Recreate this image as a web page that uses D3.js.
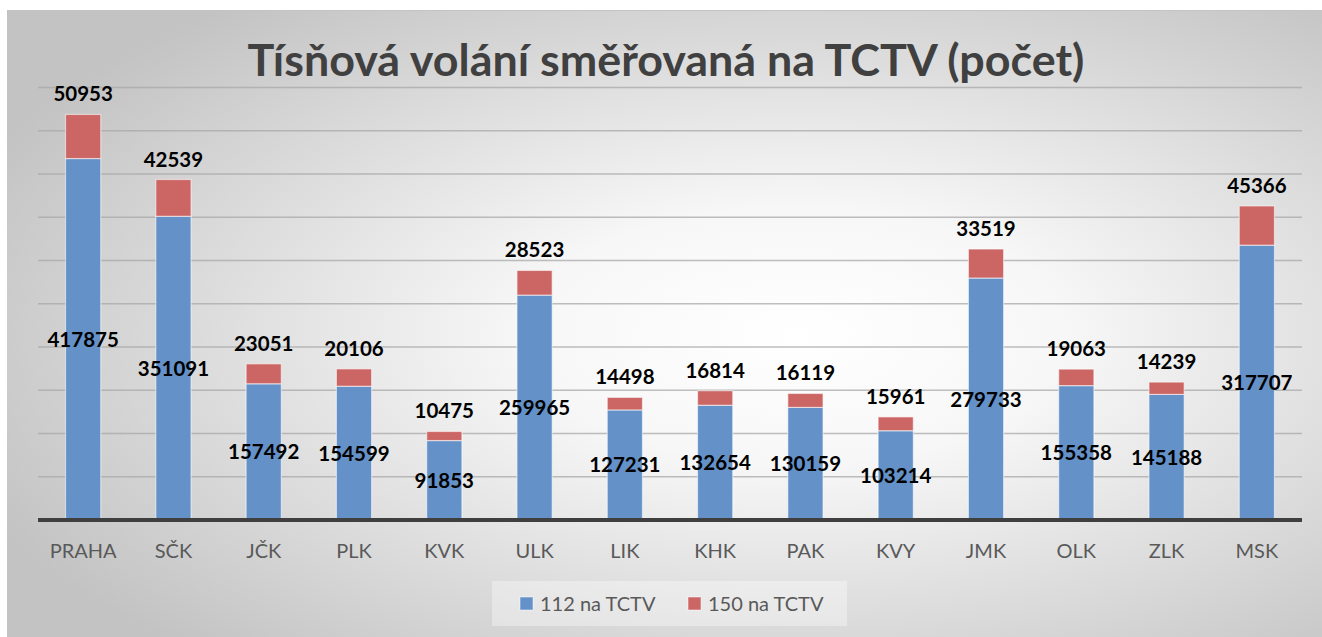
<!DOCTYPE html>
<html>
<head>
<meta charset="utf-8">
<script src="https://cdn.jsdelivr.net/npm/d3@7/dist/d3.min.js"></script>
<style>
  html, body { margin: 0; padding: 0; background: #ffffff; }
  svg { display: block; }
</style>
</head>
<body>
<svg id="chart" width="1322" height="637"></svg>
<script>
const categories = ["PRAHA", "SČK", "JČK", "PLK", "KVK", "ULK", "LIK", "KHK", "PAK", "KVY", "JMK", "OLK", "ZLK", "MSK"];
const series112 = [417875, 351091, 157492, 154599, 91853, 259965, 127231, 132654, 130159, 103214, 279733, 155358, 145188, 317707];
const series150 = [50953, 42539, 23051, 20106, 10475, 28523, 14498, 16814, 16119, 15961, 33519, 19063, 14239, 45366];
const seriesNames = ["112 na TCTV", "150 na TCTV"];
const gridTicks = [50000, 100000, 150000, 200000, 250000, 300000, 350000, 400000, 450000, 500000];
const titleText = "Tísňová volání směřovaná na TCTV (počet)";

const W = 1322, H = 637;
const svg = d3.select("#chart");
const FONT = "Lato, 'Open Sans', sans-serif";
const colors = ["#6391c8", "#cc6665"];

// background
const defs = svg.append("defs");
const grad = defs.append("radialGradient").attr("id", "bg")
  .attr("cx", "60%").attr("cy", "52%").attr("r", "68%");
grad.append("stop").attr("offset", "0%").attr("stop-color", "#ffffff");
grad.append("stop").attr("offset", "30%").attr("stop-color", "#f7f7f7");
grad.append("stop").attr("offset", "100%").attr("stop-color", "#c3c3c3");
svg.append("rect").attr("x", 7).attr("y", 10).attr("width", W - 7).attr("height", H - 10)
  .attr("fill", "url(#bg)");
svg.append("line").attr("x1", 7).attr("x2", W).attr("y1", 10.5).attr("y2", 10.5)
  .attr("stroke", "#c4c4c4").attr("stroke-width", 1);

const x0 = 38, x1 = 1302, yBase = 520;
const x = d3.scaleBand().domain(categories).range([x0, x1]).paddingInner(0.61).paddingOuter(0.305);
const y = d3.scaleLinear().domain([0, 500000]).range([yBase, 87.5]);

// gridlines
svg.append("g").selectAll("line").data(gridTicks).join("line")
  .attr("x1", x0).attr("x2", x1)
  .attr("y1", d => y(d)).attr("y2", d => y(d))
  .attr("stroke", "#a8a8a8").attr("stroke-opacity", 0.75).attr("stroke-width", 1.5);

// stacked data
const rows = categories.map((c, i) => ({ cat: c, s112: series112[i], s150: series150[i] }));
const stack = d3.stack().keys(["s112", "s150"])(rows);

const gBars = svg.append("g");
stack.forEach((layer, li) => {
  gBars.append("g").selectAll("rect").data(layer).join("rect")
    .attr("x", d => x(d.data.cat))
    .attr("width", x.bandwidth())
    .attr("y", d => y(d[1]))
    .attr("height", d => y(d[0]) - y(d[1]))
    .attr("fill", colors[li])
    .attr("stroke", "#ffffff").attr("stroke-opacity", 0.55).attr("stroke-width", 1.2);
});

// baseline axis
const xAxis = d3.axisBottom(x).tickSize(0).tickPadding(0);
const axisG = svg.append("g").attr("transform", `translate(0,${yBase})`).call(xAxis);
axisG.select(".domain").attr("stroke", "#3f3f3f").attr("stroke-width", 4)
  .attr("d", `M${x0},0H${x1}`);
axisG.selectAll(".tick text")
  .attr("y", 38).attr("dy", null)
  .attr("font-family", FONT).attr("font-size", 20).attr("fill", "#595959");

// data labels
const gLab = svg.append("g").attr("font-family", FONT).attr("font-weight", "bold")
  .attr("font-size", 20.5).attr("fill", "#000000").attr("text-anchor", "middle");
gLab.selectAll("text.l112").data(stack[0]).join("text").attr("class", "l112")
  .attr("x", d => x(d.data.cat) + x.bandwidth() / 2)
  .attr("y", d => (y(d[0]) + y(d[1])) / 2 + 7.5)
  .text(d => d.data.s112);
gLab.selectAll("text.l150").data(stack[1]).join("text").attr("class", "l150")
  .attr("x", d => x(d.data.cat) + x.bandwidth() / 2)
  .attr("y", d => y(d[1]) - 13)
  .text(d => d.data.s150);

// title
const title = svg.append("text").attr("x", 666).attr("y", 76)
  .attr("text-anchor", "middle").attr("font-family", FONT).attr("font-weight", "bold")
  .attr("font-size", 41).attr("fill", "#404040").text(titleText);
const tw = title.node().getComputedTextLength();
title.attr("font-size", 41 * 837 / tw);

// legend
svg.append("rect").attr("x", 492).attr("y", 581).attr("width", 355).attr("height", 45)
  .attr("fill", "#ffffff").attr("fill-opacity", 0.35);
const legendX = [520, 688];
seriesNames.forEach((n, i) => {
  svg.append("rect").attr("x", legendX[i]).attr("y", 597).attr("width", 13).attr("height", 13)
    .attr("fill", colors[i]).attr("stroke", "#ffffff").attr("stroke-opacity", 0.5);
  svg.append("text").attr("x", legendX[i] + 20).attr("y", 611)
    .attr("font-family", FONT).attr("font-size", 20).attr("fill", "#595959").text(n);
});
</script>
</body>
</html>
